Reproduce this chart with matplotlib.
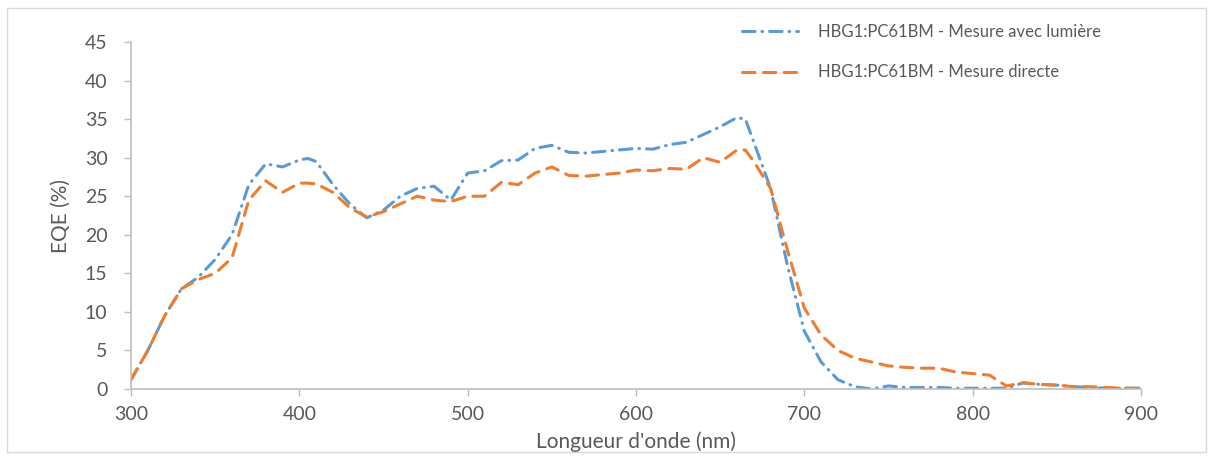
import matplotlib
matplotlib.use('Agg')
import matplotlib.pyplot as plt
from matplotlib.patches import Rectangle

plt.rcParams['font.family'] = ['Lato', 'DejaVu Sans']
plt.rcParams['lines.scale_dashes'] = False

# wavelength (nm)
wl = [300, 310, 320, 330, 340, 350, 360, 370, 380, 390, 400, 405, 410, 420, 430, 440,
      450, 460, 470, 480, 490, 500, 510, 520, 530, 540, 550, 560, 570, 580, 590, 600,
      610, 620, 630, 640, 650, 660, 665, 670, 680, 690, 700, 710, 720, 730, 740, 750,
      760, 770, 780, 790, 800, 810, 820, 830, 840, 850, 860, 870, 880, 890, 900]

# EQE (%) measured with light bias
eqe_light = [1.2, 5, 9.5, 13, 14.5, 16.8, 20, 26.5, 29.2, 28.8, 29.7, 29.9, 29.5, 26.5, 24, 22.2,
             23.2, 25, 26, 26.3, 24.5, 28, 28.3, 29.6, 29.7, 31.2, 31.6, 30.7, 30.6, 30.8, 31, 31.2,
             31.1, 31.7, 32, 33, 34, 35.2, 35, 32, 26, 16, 7.5, 3.5, 1.2, 0.3, 0, 0.4,
             0.2, 0.2, 0.2, 0.1, 0.1, 0.1, 0.1, 0.8, 0.6, 0.5, 0.3, 0.2, 0.1, 0.1, 0.1]

# EQE (%) direct measurement
eqe_direct = [1.2, 5, 9.5, 13, 14.2, 15, 17, 24.5, 27, 25.5, 26.7, 26.7, 26.6, 25.5, 23.5, 22.3,
              23, 24, 25, 24.5, 24.3, 25, 25, 26.8, 26.5, 28, 28.8, 27.7, 27.6, 27.8, 28, 28.4,
              28.3, 28.6, 28.5, 30, 29.4, 31, 31, 29.5, 26, 18, 10.5, 7, 5, 4, 3.5, 3,
              2.8, 2.7, 2.7, 2.2, 2, 1.8, 0.4, 0.8, 0.6, 0.5, 0.3, 0.3, 0.2, 0.1, 0.1]

fig = plt.figure(figsize=(12.13, 4.59), dpi=100)
ax = fig.add_axes([0.108, 0.1525, 0.8326, 0.756])

ax.plot(wl, eqe_light, color='#5B9BD5', lw=2.2, dashes=(9, 5, 0.5, 5),
        dash_capstyle='round', label='HBG1:PC61BM - Mesure avec lumière')
ax.plot(wl, eqe_direct, color='#ED7D31', lw=2.2, dashes=(9, 6),
        dash_capstyle='round', label='HBG1:PC61BM - Mesure directe')

ax.set_xlim(300, 900)
ax.set_ylim(0, 45)
ax.set_xticks(range(300, 901, 100))
ax.set_yticks(range(0, 46, 5))
ax.tick_params(colors='#595959', labelsize=14, length=5, width=1, color='#BFBFBF')
ax.tick_params(axis='y', pad=12)
ax.tick_params(axis='x', pad=7)
for s in ['top', 'right']:
    ax.spines[s].set_visible(False)
for s in ['left', 'bottom']:
    ax.spines[s].set_color('#BFBFBF')
    ax.spines[s].set_linewidth(1.2)

ax.set_xlabel("Longueur d'onde (nm)", fontsize=15, color='#595959', labelpad=6)
ax.set_ylabel('EQE (%)', fontsize=15, color='#595959', labelpad=10)

leg = fig.legend(loc='upper left', bbox_to_anchor=(0.599, 0.98), frameon=False,
                 fontsize=12, labelcolor='#595959', handlelength=3.4, handletextpad=1.2,
                 labelspacing=1.45)

fig.patches.append(Rectangle((0.006, 0.015), 0.988, 0.968, transform=fig.transFigure,
                             fill=False, edgecolor='#D9D9D9', lw=1))

fig.savefig('out.png', dpi=100)
